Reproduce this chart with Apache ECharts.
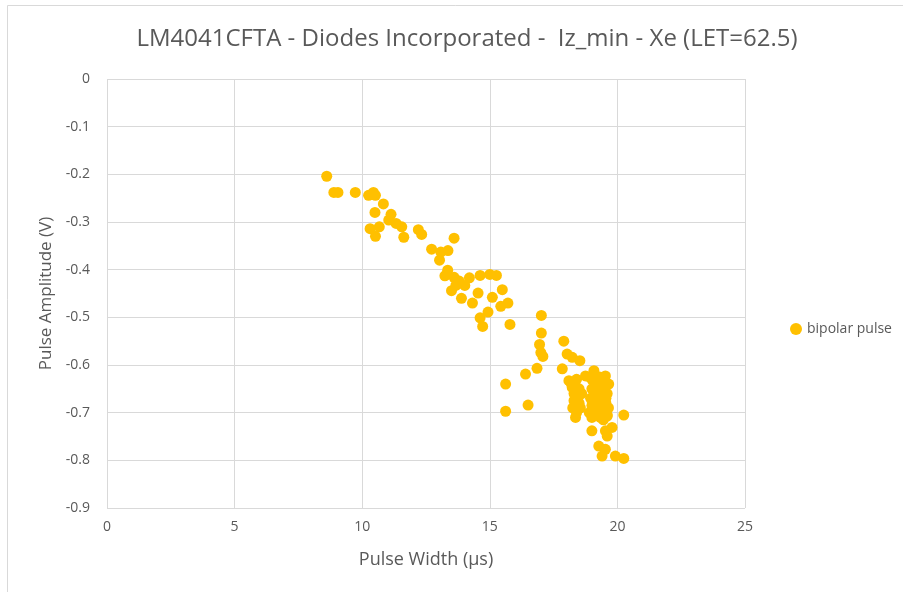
<!DOCTYPE html>
<html><head><meta charset="utf-8">
<script src="https://cdn.jsdelivr.net/npm/echarts@6/dist/echarts.min.js"></script>
<style>html,body{margin:0;padding:0;background:#fff}#c{width:903px;height:592px}</style>
</head><body><div id="c"></div>
<script>
const title = 'LM4041CFTA - Diodes Incorporated -  Iz_min - Xe (LET=62.5)';
const seriesName = 'bipolar pulse';
const xAxisName = 'Pulse Width (μs)';
const yAxisName = 'Pulse Amplitude (V)';
const pulseWidth = [
 8.61, 8.89, 9.05, 9.73, 10.25, 10.44, 10.52, 10.83, 10.5, 11.13, 11.04, 11.33, 11.55, 10.31, 10.67, 10.52, 11.63,
 12.2, 12.33, 13.6, 12.72, 13.08, 13.36, 13.03, 13.35, 13.24, 13.6, 13.8, 14.2, 13.67, 14.02, 14.62, 15.0, 15.26,
 13.5, 13.89, 14.32, 14.54, 15.1, 15.49, 15.43, 15.71, 14.93, 14.62, 14.72, 15.79,
 17.02, 17.02, 16.95, 17.0, 17.08, 16.85, 16.4, 15.62, 15.62, 16.5,
 17.9, 18.03, 18.23, 18.53, 17.84, 18.1, 18.23, 18.3, 18.36, 18.36, 18.75, 19.08, 19.53, 19.66,
 19.0, 19.33, 19.6, 20.25, 19.0, 19.53, 19.79, 19.6, 19.27, 19.53, 19.4, 19.92, 20.25,
 18.2, 18.4, 18.5, 18.3, 18.45, 18.6, 18.25, 18.5, 18.4, 18.55, 18.35,
 18.9, 19.0, 19.1, 19.2, 19.3, 19.4, 19.5, 19.6, 19.0, 19.15, 19.3, 19.45, 19.6,
 18.95, 19.1, 19.25, 19.4, 19.55, 19.05, 19.2, 19.35, 19.5, 19.65, 18.9, 19.1, 19.3, 19.45, 19.6,
 19.0, 19.2, 19.4, 19.55, 19.25, 19.45
];
const pulseAmplitude = [
 -0.204, -0.238, -0.238, -0.238, -0.244, -0.238, -0.244, -0.262, -0.28, -0.284, -0.296, -0.303, -0.31, -0.314, -0.31, -0.33, -0.332,
 -0.316, -0.326, -0.334, -0.357, -0.363, -0.36, -0.38, -0.401, -0.413, -0.416, -0.424, -0.417, -0.433, -0.433, -0.412, -0.41, -0.412,
 -0.444, -0.46, -0.47, -0.449, -0.458, -0.442, -0.477, -0.47, -0.489, -0.501, -0.519, -0.515,
 -0.496, -0.533, -0.557, -0.574, -0.582, -0.607, -0.619, -0.64, -0.697, -0.684,
 -0.55, -0.577, -0.584, -0.591, -0.608, -0.633, -0.647, -0.675, -0.693, -0.71, -0.623, -0.612, -0.623, -0.64,
 -0.71, -0.71, -0.707, -0.705, -0.738, -0.738, -0.731, -0.749, -0.77, -0.777, -0.791, -0.791, -0.796,
 -0.64, -0.63, -0.65, -0.66, -0.67, -0.66, -0.69, -0.68, -0.70, -0.69, -0.655,
 -0.625, -0.63, -0.62, -0.635, -0.625, -0.63, -0.625, -0.64, -0.65, -0.645, -0.655, -0.65, -0.66,
 -0.67, -0.665, -0.675, -0.67, -0.68, -0.69, -0.695, -0.685, -0.695, -0.69, -0.70, -0.705, -0.70, -0.71, -0.705,
 -0.685, -0.66, -0.64, -0.67, -0.70, -0.715
];
const xTicks = [0, 5, 10, 15, 20, 25];
const yTicks = [0, -0.1, -0.2, -0.3, -0.4, -0.5, -0.6, -0.7, -0.8, -0.9];

const data = pulseWidth.map((x, i) => [x, pulseAmplitude[i]]);
const font = '"Open Sans", "Noto Sans", sans-serif';
const chart = echarts.init(document.getElementById('c'), null, {renderer: 'canvas'});
chart.setOption({
  animation: false,
  backgroundColor: '#fff',
  title: {
    text: title, left: 462, textAlign: 'center', top: 22,
    textStyle: {fontFamily: font, fontSize: 24, fontWeight: 'normal', color: '#595959'}
  },
  legend: {
    orient: 'vertical', left: 785, top: 317,
    itemWidth: 12, itemHeight: 12, itemGap: 5,
    icon: 'circle',
    textStyle: {fontFamily: font, fontSize: 14, color: '#595959'},
    data: [seriesName]
  },
  grid: {left: 107, right: 158, top: 79, bottom: 84, containLabel: false},
  xAxis: {
    type: 'value', min: xTicks[0], max: xTicks[xTicks.length - 1], interval: 5,
    name: xAxisName, nameLocation: 'middle', nameGap: 43,
    nameTextStyle: {fontFamily: font, fontSize: 18, color: '#595959'},
    axisLine: {show: false}, axisTick: {show: false},
    axisLabel: {fontFamily: font, fontSize: 14, color: '#595959', margin: 12},
    splitLine: {show: true, lineStyle: {color: '#d9d9d9', width: 1}}
  },
  yAxis: {
    type: 'value', min: yTicks[yTicks.length - 1], max: yTicks[0], interval: 0.1,
    name: yAxisName, nameLocation: 'middle', nameGap: 50, nameRotate: 90,
    nameTextStyle: {fontFamily: font, fontSize: 17, color: '#595959'},
    axisLine: {show: false}, axisTick: {show: false},
    axisLabel: {fontFamily: font, fontSize: 14, color: '#595959', margin: 17,
      formatter: v => (Math.abs(v) < 1e-9 ? '0' : (Math.round(v * 10) / 10).toString())},
    splitLine: {show: true, lineStyle: {color: '#d9d9d9', width: 1}}
  },
  series: [{
    name: seriesName, type: 'scatter', data: data,
    symbol: 'circle', symbolSize: 11,
    itemStyle: {color: '#FFC000', opacity: 1}
  }],
  graphic: [{
    type: 'rect', shape: {x: 7.5, y: 5.5, width: 920, height: 600},
    style: {fill: 'none', stroke: '#d9d9d9', lineWidth: 1}, silent: true, z: -1
  }]
});
</script></body></html>
